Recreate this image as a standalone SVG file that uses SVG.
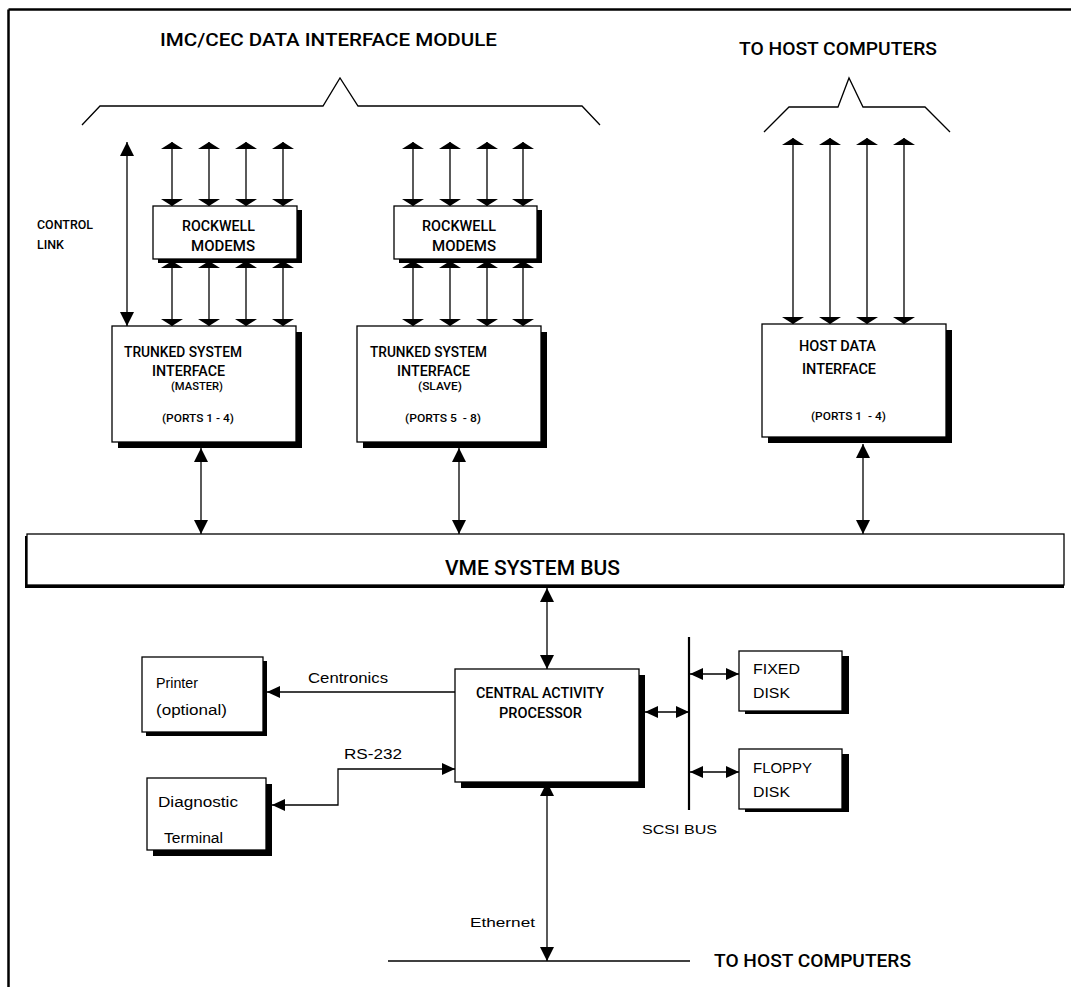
<svg xmlns="http://www.w3.org/2000/svg" width="1071" height="987" viewBox="0 0 1071 987">
  <style>
    .ln { fill: none; stroke: #000; stroke-width: 1.3; }
    .box { fill: #fff; stroke: #000; stroke-width: 1.3; }
    .shd { fill: #000; }
    .hd { font-family: Roboto, "Liberation Sans", Arial, sans-serif; font-weight: 500; fill: #000; }
    .rg { font-family: "Liberation Sans", Arial, sans-serif; font-weight: 400; fill: #000; }
  </style>
  <defs>
    <!-- wide flat head used on port lines -->
    <marker id="flat" markerUnits="userSpaceOnUse" viewBox="0 -11 7 22" markerWidth="7" markerHeight="22" refX="7" refY="0" orient="auto-start-reverse">
      <path d="M0,-11 L7,0 L0,11 Z" fill="#000"/>
    </marker>
    <!-- standard head for bus links -->
    <marker id="std" markerUnits="userSpaceOnUse" viewBox="0 -7 14 14" markerWidth="14" markerHeight="14" refX="14" refY="0" orient="auto-start-reverse">
      <path d="M0,-7 L14,0 L0,7 Z" fill="#000"/>
    </marker>
    <!-- small head for peripheral links -->
    <marker id="sm" markerUnits="userSpaceOnUse" viewBox="0 -6 13 12" markerWidth="13" markerHeight="12" refX="13" refY="0" orient="auto-start-reverse">
      <path d="M0,-6 L13,0 L0,6 Z" fill="#000"/>
    </marker>
  </defs>

  <rect width="1071" height="987" fill="#fff"/>

  <!-- outer frame (top and left edges) -->
  <g id="frame">
    <line x1="8.5" y1="9.5" x2="1071" y2="9.5" stroke="#000" stroke-width="2.5"/>
    <line x1="8.5" y1="9.5" x2="8.5" y2="987" stroke="#000" stroke-width="2.5"/>
  </g>

  <!-- titles and braces -->
  <g id="titles">
    <text class="hd" x="160" y="46" font-size="18" textLength="337" lengthAdjust="spacingAndGlyphs">IMC/CEC DATA INTERFACE MODULE</text>
    <text class="hd" x="739" y="55" font-size="18" textLength="198" lengthAdjust="spacingAndGlyphs">TO HOST COMPUTERS</text>
    <polyline class="ln" points="82,125 100,106 323,106 340,78 358,106 582,106 600,125"/>
    <polyline class="ln" points="764,132 789,107 838,107 849,78 863,107 925,107 950,132"/>
    <text class="hd" x="37" y="229" font-size="13" textLength="56" lengthAdjust="spacingAndGlyphs">CONTROL</text>
    <text class="hd" x="37" y="249" font-size="13" textLength="27" lengthAdjust="spacingAndGlyphs">LINK</text>
  </g>

  <!-- connectors -->
  <g id="connectors" class="ln">
    <!-- control link -->
    <line x1="127" y1="142" x2="127" y2="326" marker-start="url(#std)" marker-end="url(#std)"/>
    <!-- ports to modems, group 1 -->
    <line x1="172" y1="142" x2="172" y2="206" marker-start="url(#flat)" marker-end="url(#flat)"/>
    <line x1="209" y1="142" x2="209" y2="206" marker-start="url(#flat)" marker-end="url(#flat)"/>
    <line x1="246" y1="142" x2="246" y2="206" marker-start="url(#flat)" marker-end="url(#flat)"/>
    <line x1="283" y1="142" x2="283" y2="206" marker-start="url(#flat)" marker-end="url(#flat)"/>
    <!-- ports to modems, group 2 -->
    <line x1="413" y1="142" x2="413" y2="206" marker-start="url(#flat)" marker-end="url(#flat)"/>
    <line x1="450" y1="142" x2="450" y2="206" marker-start="url(#flat)" marker-end="url(#flat)"/>
    <line x1="487" y1="142" x2="487" y2="206" marker-start="url(#flat)" marker-end="url(#flat)"/>
    <line x1="523" y1="142" x2="523" y2="206" marker-start="url(#flat)" marker-end="url(#flat)"/>
    <!-- modems to trunked interfaces -->
    <line x1="172" y1="261" x2="172" y2="326" marker-start="url(#flat)" marker-end="url(#flat)"/>
    <line x1="209" y1="261" x2="209" y2="326" marker-start="url(#flat)" marker-end="url(#flat)"/>
    <line x1="246" y1="261" x2="246" y2="326" marker-start="url(#flat)" marker-end="url(#flat)"/>
    <line x1="283" y1="261" x2="283" y2="326" marker-start="url(#flat)" marker-end="url(#flat)"/>
    <line x1="413" y1="261" x2="413" y2="326" marker-start="url(#flat)" marker-end="url(#flat)"/>
    <line x1="450" y1="261" x2="450" y2="326" marker-start="url(#flat)" marker-end="url(#flat)"/>
    <line x1="487" y1="261" x2="487" y2="326" marker-start="url(#flat)" marker-end="url(#flat)"/>
    <line x1="523" y1="261" x2="523" y2="326" marker-start="url(#flat)" marker-end="url(#flat)"/>
    <!-- host ports -->
    <line x1="793" y1="138" x2="793" y2="324" marker-start="url(#flat)" marker-end="url(#flat)"/>
    <line x1="830" y1="138" x2="830" y2="324" marker-start="url(#flat)" marker-end="url(#flat)"/>
    <line x1="867" y1="138" x2="867" y2="324" marker-start="url(#flat)" marker-end="url(#flat)"/>
    <line x1="904" y1="138" x2="904" y2="324" marker-start="url(#flat)" marker-end="url(#flat)"/>
    <!-- boards to VME bus -->
    <line x1="201" y1="448" x2="201" y2="534" marker-start="url(#std)" marker-end="url(#std)"/>
    <line x1="459" y1="448" x2="459" y2="534" marker-start="url(#std)" marker-end="url(#std)"/>
    <line x1="863" y1="444" x2="863" y2="534" marker-start="url(#std)" marker-end="url(#std)"/>
    <!-- VME bus to CAP -->
    <line x1="547" y1="588" x2="547" y2="669" marker-start="url(#std)" marker-end="url(#std)"/>
    <!-- Centronics -->
    <line x1="455" y1="692" x2="267" y2="692" marker-end="url(#sm)"/>
    <!-- RS-232 -->
    <path d="M272,805 H338 V769 H455" marker-start="url(#sm)" marker-end="url(#sm)"/>
    <!-- CAP to SCSI bus -->
    <line x1="645" y1="712" x2="689" y2="712" marker-start="url(#sm)" marker-end="url(#sm)"/>
    <!-- SCSI bus -->
    <line x1="689" y1="637" x2="689" y2="810" stroke-width="2.2"/>
    <line x1="690" y1="674" x2="739" y2="674" marker-start="url(#sm)" marker-end="url(#sm)"/>
    <line x1="690" y1="772" x2="739" y2="772" marker-start="url(#sm)" marker-end="url(#sm)"/>
    <!-- Ethernet -->
    <line x1="547" y1="782" x2="547" y2="961" marker-start="url(#std)" marker-end="url(#std)"/>
    <line x1="388" y1="961" x2="690" y2="961"/>
  </g>

  <g id="modems-1">
    <rect class="shd" x="158" y="210" width="144" height="53"/>
    <rect class="box" x="153" y="206" width="144" height="53"/>
    <text class="hd" x="182" y="231" font-size="14" textLength="73" lengthAdjust="spacingAndGlyphs">ROCKWELL</text>
    <text class="hd" x="191" y="251" font-size="14" textLength="64" lengthAdjust="spacingAndGlyphs">MODEMS</text>
  </g>

  <g id="modems-2">
    <rect class="shd" x="399" y="210" width="143" height="53"/>
    <rect class="box" x="394" y="206" width="143" height="53"/>
    <text class="hd" x="422" y="231" font-size="14" textLength="74" lengthAdjust="spacingAndGlyphs">ROCKWELL</text>
    <text class="hd" x="432" y="251" font-size="14" textLength="64" lengthAdjust="spacingAndGlyphs">MODEMS</text>
  </g>

  <g id="tsi-master">
    <rect class="shd" x="118" y="332" width="184" height="116"/>
    <rect class="box" x="112" y="326" width="184" height="116"/>
    <text class="hd" x="124" y="357" font-size="14" textLength="118" lengthAdjust="spacingAndGlyphs">TRUNKED SYSTEM</text>
    <text class="hd" x="152" y="376" font-size="14" textLength="73" lengthAdjust="spacingAndGlyphs">INTERFACE</text>
    <text class="hd" x="171" y="390" font-size="10" textLength="52" lengthAdjust="spacingAndGlyphs">(MASTER)</text>
    <text class="hd" x="162" y="422" font-size="11" textLength="72" lengthAdjust="spacingAndGlyphs">(PORTS 1 - 4)</text>
  </g>

  <g id="tsi-slave">
    <rect class="shd" x="363" y="332" width="184" height="116"/>
    <rect class="box" x="357" y="326" width="184" height="116"/>
    <text class="hd" x="370" y="357" font-size="14" textLength="117" lengthAdjust="spacingAndGlyphs">TRUNKED SYSTEM</text>
    <text class="hd" x="397" y="376" font-size="14" textLength="73" lengthAdjust="spacingAndGlyphs">INTERFACE</text>
    <text class="hd" x="418" y="390" font-size="10" textLength="44" lengthAdjust="spacingAndGlyphs">(SLAVE)</text>
    <text class="hd" x="405" y="422" font-size="11" textLength="76" lengthAdjust="spacingAndGlyphs" xml:space="preserve">(PORTS 5  - 8)</text>
  </g>

  <g id="host-data-interface">
    <rect class="shd" x="768" y="330" width="184" height="113"/>
    <rect class="box" x="762" y="324" width="184" height="113"/>
    <text class="hd" x="799" y="351" font-size="14" textLength="77" lengthAdjust="spacingAndGlyphs">HOST DATA</text>
    <text class="hd" x="802" y="374" font-size="14" textLength="74" lengthAdjust="spacingAndGlyphs">INTERFACE</text>
    <text class="hd" x="811" y="420" font-size="11" textLength="75" lengthAdjust="spacingAndGlyphs" xml:space="preserve">(PORTS 1  - 4)</text>
  </g>

  <g id="vme-bus">
    <rect class="shd" x="25" y="536" width="1039" height="52"/>
    <rect class="box" x="27" y="534" width="1037" height="51"/>
    <text class="hd" x="445" y="575" font-size="21" textLength="175" lengthAdjust="spacingAndGlyphs">VME SYSTEM BUS</text>
  </g>

  <g id="printer">
    <rect class="shd" x="146" y="661" width="121" height="75"/>
    <rect class="box" x="142" y="657" width="121" height="75"/>
    <text class="rg" x="156" y="688" font-size="14" textLength="42" lengthAdjust="spacingAndGlyphs">Printer</text>
    <text class="rg" x="156" y="715" font-size="14" textLength="71" lengthAdjust="spacingAndGlyphs">(optional)</text>
  </g>

  <g id="diagnostic-terminal">
    <rect class="shd" x="153" y="784" width="119" height="72"/>
    <rect class="box" x="147" y="778" width="119" height="72"/>
    <text class="rg" x="158" y="807" font-size="14" textLength="80" lengthAdjust="spacingAndGlyphs">Diagnostic</text>
    <text class="rg" x="164" y="843" font-size="14" textLength="59" lengthAdjust="spacingAndGlyphs">Terminal</text>
  </g>

  <g id="central-activity-processor">
    <rect class="shd" x="461" y="675" width="184" height="113"/>
    <rect class="box" x="455" y="669" width="184" height="113"/>
    <text class="hd" x="476" y="698" font-size="14" textLength="128" lengthAdjust="spacingAndGlyphs">CENTRAL ACTIVITY</text>
    <text class="hd" x="499" y="718" font-size="14" textLength="83" lengthAdjust="spacingAndGlyphs">PROCESSOR</text>
  </g>

  <g id="fixed-disk">
    <rect class="shd" x="745" y="656" width="104" height="58"/>
    <rect class="box" x="739" y="651" width="103" height="60"/>
    <text class="rg" x="753" y="674" font-size="14" textLength="47" lengthAdjust="spacingAndGlyphs">FIXED</text>
    <text class="rg" x="753" y="698" font-size="14" textLength="37" lengthAdjust="spacingAndGlyphs">DISK</text>
  </g>

  <g id="floppy-disk">
    <rect class="shd" x="745" y="754" width="104" height="58"/>
    <rect class="box" x="739" y="749" width="103" height="60"/>
    <text class="rg" x="753" y="773" font-size="14" textLength="59" lengthAdjust="spacingAndGlyphs">FLOPPY</text>
    <text class="rg" x="753" y="797" font-size="14" textLength="37" lengthAdjust="spacingAndGlyphs">DISK</text>
  </g>

  <!-- link labels -->
  <g id="labels">
    <text class="rg" x="308" y="683" font-size="14" textLength="80" lengthAdjust="spacingAndGlyphs">Centronics</text>
    <text class="rg" x="344" y="759" font-size="14" textLength="58" lengthAdjust="spacingAndGlyphs">RS-232</text>
    <text class="rg" x="642" y="834" font-size="13" textLength="75" lengthAdjust="spacingAndGlyphs">SCSI BUS</text>
    <text class="rg" x="470" y="927" font-size="13" textLength="65" lengthAdjust="spacingAndGlyphs">Ethernet</text>
    <text class="hd" x="714" y="967" font-size="18" textLength="197" lengthAdjust="spacingAndGlyphs">TO HOST COMPUTERS</text>
  </g>
</svg>
